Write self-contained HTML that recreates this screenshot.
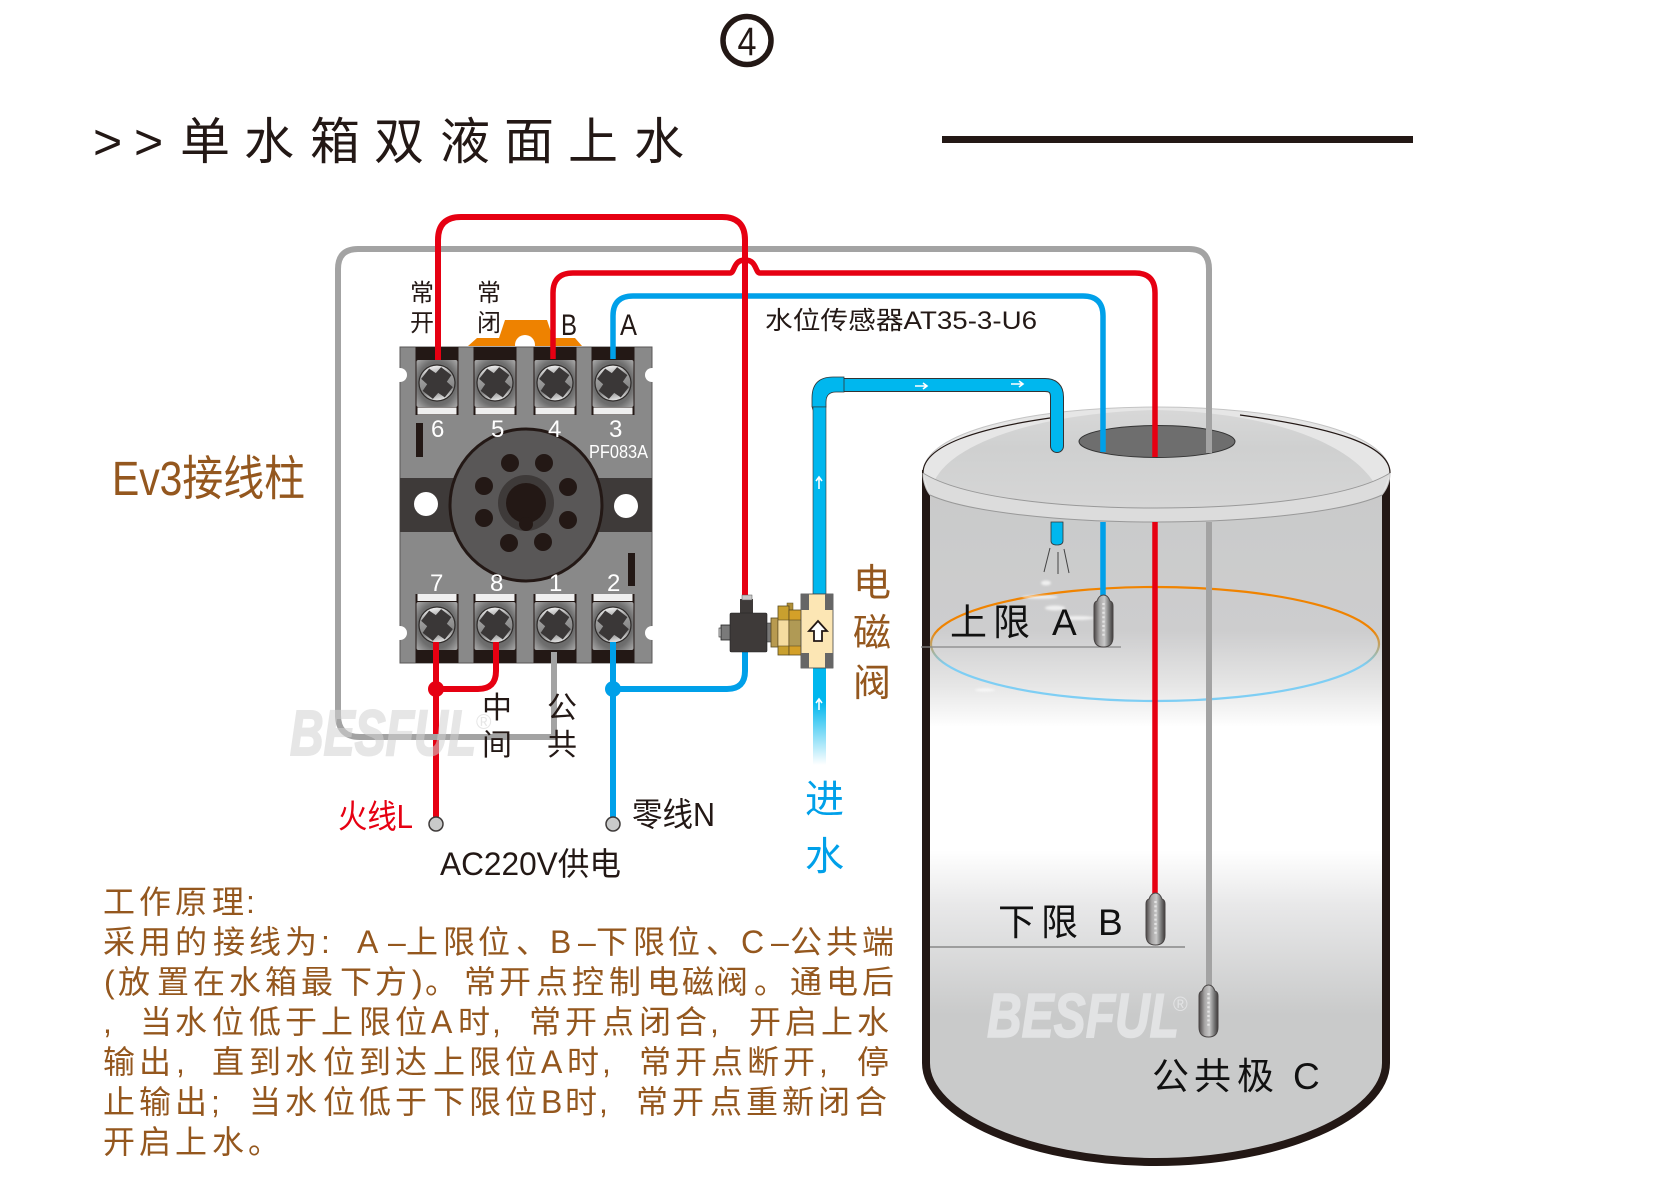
<!DOCTYPE html>
<html><head><meta charset="utf-8"><style>
html,body{margin:0;padding:0;background:#fff;width:1679px;height:1190px;overflow:hidden}
svg{display:block}
text{font-family:"Liberation Sans","Noto Sans CJK SC",sans-serif}
.cn{fill:#94571e;font-size:32px}
.k{fill:#111;font-size:37px}
.w{fill:#fff;font-size:24px}
</style></head><body>
<svg xmlns="http://www.w3.org/2000/svg" width="1679" height="1190" viewBox="0 0 1679 1190">
<defs>
<linearGradient id="tank" gradientUnits="userSpaceOnUse" x1="0" y1="480" x2="0" y2="1166">
<stop offset="0" stop-color="#c9caca"/><stop offset=".22" stop-color="#cdcdce"/><stop offset=".3" stop-color="#e6e6e6"/><stop offset=".345" stop-color="#f8f8f8"/><stop offset=".36" stop-color="#fff"/><stop offset=".54" stop-color="#fff"/><stop offset=".62" stop-color="#e8e8e9"/><stop offset=".78" stop-color="#c9caca"/><stop offset="1" stop-color="#c9caca"/>
</linearGradient>
<linearGradient id="surf" gradientUnits="userSpaceOnUse" x1="0" y1="630" x2="0" y2="665">
<stop offset="0" stop-color="#f08300"/><stop offset="1" stop-color="#7ecef4"/>
</linearGradient>
<linearGradient id="lidg" gradientUnits="userSpaceOnUse" x1="0" y1="408" x2="0" y2="508">
<stop offset="0" stop-color="#d8d8d8"/><stop offset=".4" stop-color="#cfd0d0"/><stop offset="1" stop-color="#d6d6d6"/>
</linearGradient>
<linearGradient id="pipefade" gradientUnits="userSpaceOnUse" x1="0" y1="668" x2="0" y2="765">
<stop offset="0" stop-color="#00b7ee"/><stop offset=".35" stop-color="#00b7ee"/><stop offset="1" stop-color="#00b7ee" stop-opacity="0"/>
</linearGradient>
<linearGradient id="probe" x1="0" x2="1" y1="0" y2="0">
<stop offset="0" stop-color="#4a4646"/><stop offset=".3" stop-color="#a8a6a6"/><stop offset=".55" stop-color="#c8c8c8"/><stop offset=".8" stop-color="#777"/><stop offset="1" stop-color="#3e3a39"/>
</linearGradient>
<radialGradient id="plate" cx=".5" cy=".5" r=".72">
<stop offset="0" stop-color="#555"/><stop offset=".65" stop-color="#6e6e6e"/><stop offset="1" stop-color="#b0b0b0"/>
</radialGradient>
<linearGradient id="screw" x1=".4" y1="0" x2=".6" y2="1">
<stop offset="0" stop-color="#f6f6f6"/><stop offset=".3" stop-color="#a0a0a0"/><stop offset=".7" stop-color="#858585"/><stop offset="1" stop-color="#ececec"/>
</linearGradient>
<filter id="blur"><feGaussianBlur stdDeviation="1"/></filter>
<g id="screwg">
<circle r="18" fill="url(#screw)" stroke="#2f2c2b" stroke-width="1.200"/>
<path d="M-6.500,-15 H6.500 L7,-7 L15,-6.500 V6.500 L7,7 L6.500,15 H-6.500 L-7,7 L-15,6.500 V-6.500 L-7,-7 Z" fill="#3a3737" transform="rotate(38)"/>
</g>
<g id="termT">
<rect x="-21.500" y="-36" width="43" height="68" fill="#231815"/>
<rect x="-20.500" y="-23" width="41" height="47" rx="2" fill="url(#plate)"/>
<rect x="-19.500" y="24.500" width="39" height="7" fill="#efefef"/>
<use href="#screwg"/>
</g>
<g id="termB">
<rect x="-21.500" y="-31" width="43" height="69" fill="#231815"/>
<rect x="-20.500" y="-23" width="41" height="48" rx="2" fill="url(#plate)"/>
<rect x="-19.500" y="-31" width="39" height="7" fill="#efefef"/>
<use href="#screwg"/>
</g>
<g id="probeg">
<path d="M3,6 Q5,0 9.500,0 Q14,0 16,6 Q19,7 19,11 V42 Q19,52 9.500,52 Q0,52 0,42 V11 Q0,7 3,6 Z" fill="url(#probe)" stroke="#4a4646" stroke-width="1"/>
<path d="M9.500,8 V42" stroke="#e4e4e4" stroke-width="2.400" stroke-dasharray="2 2.400" fill="none"/>
</g>
</defs>

<rect width="1679" height="1190" fill="#fff"/>

<!-- header -->
<circle cx="747" cy="40.500" r="24" fill="none" stroke="#231815" stroke-width="5.500"/>
<text x="747" y="55" font-size="40" text-anchor="middle" fill="#231815" textLength="19" lengthAdjust="spacingAndGlyphs">4</text>
<text y="159" font-size="50" fill="#231815" x="93 134 180 244 310 374 440 504 568 634">&gt;&gt;单水箱双液面上水</text>
<rect x="942" y="136" width="471" height="7" fill="#231815"/>

<!-- tank -->
<path d="M926,470 V1063 C926,1115 1030,1162 1156,1162 C1282,1162 1386,1115 1386,1063 V470 Z" fill="url(#tank)" stroke="none"/>
<path d="M926,470 V1063 C926,1115 1030,1162 1156,1162 C1282,1162 1386,1115 1386,1063 V470" fill="none" stroke="#231815" stroke-width="8"/>
<text x="987" y="1037" font-size="62" font-weight="bold" font-style="italic" fill="#e2e3e4" stroke="#e2e3e4" stroke-width="1.500" textLength="192" lengthAdjust="spacingAndGlyphs">BESFUL</text>
<text x="1173" y="1011" font-size="20" fill="#e2e3e4">®</text>

<!-- water surface -->
<ellipse cx="1155" cy="644" rx="224" ry="57" fill="none" stroke="url(#surf)" stroke-width="2.200"/>
<g fill="#fff" filter="url(#blur)" opacity=".7">
<ellipse cx="1040" cy="597" rx="18" ry="1.800"/><ellipse cx="1055" cy="608" rx="10" ry="2.500"/><ellipse cx="1078" cy="618" rx="16" ry="2"/><ellipse cx="1046" cy="583" rx="5" ry="2.500"/><ellipse cx="985" cy="690" rx="10" ry="1.500"/>
</g>
<line x1="921" y1="647" x2="1121" y2="647" stroke="#888" stroke-width="1.200"/>
<line x1="930" y1="947" x2="1185" y2="947" stroke="#777" stroke-width="1.200"/>

<!-- lid -->
<path d="M923,473 C923,432 1030,407 1156,407 C1282,407 1390,432 1390,473 C1390,482 1386,490 1382,495 C1345,512 1250,522 1156,522 C1062,522 967,512 930,495 C926,490 923,482 923,473 Z" fill="#e6e6e6" stroke="#c4c4c4" stroke-width="1"/>
<path d="M933,484 C950,440 1050,412 1156,410 C1262,412 1350,440 1376,486 C1320,502 1240,508 1156,508 C1072,508 985,502 933,484 Z" fill="url(#lidg)"/>
<path d="M930,495 C967,512 1062,522 1156,522 C1250,522 1345,512 1382,495 L1390,473 C1350,498 1250,508 1156,508 C1062,508 963,498 923,473 Z" fill="#dcdcdc"/>
<path d="M923,473 C963,498 1062,508 1156,508 C1250,508 1350,498 1390,473" fill="none" stroke="#999" stroke-width="1"/>
<path d="M930,495 C967,512 1062,522 1156,522 C1250,522 1345,512 1382,495" fill="none" stroke="#999" stroke-width="1"/>
<path d="M923,473 C923,445 980,428 1050,418" fill="none" stroke="#231815" stroke-width="1.200"/>
<path d="M1240,415 C1335,428 1390,445 1390,473" fill="none" stroke="#231815" stroke-width="1.200"/>
<ellipse cx="1157" cy="441.500" rx="78" ry="16" fill="#6e6e6e" stroke="#333" stroke-width="1"/>

<!-- gray wire upper -->
<path d="M338,717 V269 Q338,249 358,249 H1189 Q1209,249 1209,269 V453" fill="none" stroke="#a3a3a3" stroke-width="6"/>
<path d="M1209,522 V986" fill="none" stroke="#a3a3a3" stroke-width="6"/>

<!-- orange bracket -->
<path d="M468,346 L477,338 H499 L505,320 H547 L553,338 H575 L582,346 Z" fill="#ee8200"/>
<circle cx="525" cy="345" r="10" fill="#fff"/>

<!-- relay base -->
<rect x="400" y="347" width="252" height="316" fill="#898989" stroke="#595757" stroke-width="1"/>
<rect x="400" y="478" width="252" height="54" fill="#3e3a39"/>
<g fill="#fff"><circle cx="400" cy="375" r="7"/><circle cx="652" cy="375" r="7"/><circle cx="400" cy="633" r="7"/><circle cx="652" cy="633" r="7"/>
<circle cx="426" cy="504" r="12"/><circle cx="626" cy="506" r="12"/></g>
<circle cx="526" cy="505" r="76" fill="#595757" stroke="#231815" stroke-width="3"/>
<circle cx="526" cy="503" r="28" fill="#3e3a39"/>
<circle cx="526" cy="503" r="20" fill="#231815"/>
<circle cx="526" cy="524" r="7" fill="#231815"/>
<g fill="#231815"><circle cx="510" cy="463" r="9"/><circle cx="544" cy="463" r="9"/><circle cx="484" cy="486" r="9"/><circle cx="568" cy="487" r="9"/><circle cx="484" cy="518" r="9"/><circle cx="568" cy="520" r="9"/><circle cx="509" cy="543" r="9"/><circle cx="543" cy="542" r="9"/>
<rect x="416" y="423" width="7" height="34"/><rect x="628" y="553" width="7" height="33"/></g>
<use href="#termT" x="437" y="383"/><use href="#termT" x="495" y="383"/><use href="#termT" x="555" y="383"/><use href="#termT" x="613" y="383"/>
<use href="#termB" x="437" y="625"/><use href="#termB" x="495" y="625"/><use href="#termB" x="555" y="625"/><use href="#termB" x="613" y="625"/>
<text class="w" x="431" y="437">6</text><text class="w" x="491" y="437">5</text><text class="w" x="548" y="437">4</text><text class="w" x="609" y="437">3</text>
<text class="w" x="430" y="591">7</text><text class="w" x="490" y="591">8</text><text class="w" x="549" y="591">1</text><text class="w" x="607" y="591">2</text>
<text x="589" y="458" font-size="18" fill="#fff" textLength="59" lengthAdjust="spacingAndGlyphs">PF083A</text>

<!-- blue wires -->
<path d="M613,359 V316 Q613,296 633,296 H1083 Q1103,296 1103,316 V452" fill="none" stroke="#00a0e9" stroke-width="5.500"/>
<path d="M1103,522 V596" fill="none" stroke="#00a0e9" stroke-width="5.500"/>
<path d="M613,642 V823 M613,689 H727 Q745,689 745,671 V650" fill="none" stroke="#00a0e9" stroke-width="6"/>
<circle cx="613" cy="689" r="8" fill="#00a0e9"/>

<!-- red wires -->
<path d="M438,360 V240 Q438,217 461,217 H722 Q745,217 745,240 V596" fill="none" stroke="#e60012" stroke-width="6"/>
<path d="M553,359 V293 Q553,273 573,273 H730 C735,273 733,260 745,260 C757,260 755,273 760,273 H1135 Q1155,273 1155,293 V457" fill="none" stroke="#e60012" stroke-width="5.500"/>
<path d="M1155,522 V894" fill="none" stroke="#e60012" stroke-width="5.500"/>
<path d="M436,642 V823 M496,642 V671 Q496,689 478,689 H436" fill="none" stroke="#e60012" stroke-width="6"/>
<circle cx="436" cy="689" r="8" fill="#e60012"/>
<circle cx="436" cy="824" r="7" fill="#c9caca" stroke="#3e3a39" stroke-width="1.500"/>
<circle cx="613" cy="824" r="7" fill="#c9caca" stroke="#3e3a39" stroke-width="1.500"/>

<!-- gray wire lower (over the red) -->
<path d="M338,715 Q338,737 360,737 H554 V652" fill="none" stroke="#a3a3a3" stroke-width="6"/>

<!-- left watermark, translucent over wires -->
<g opacity=".55" fill="#d2d2d2">
<text x="290" y="755" font-size="64" font-weight="bold" font-style="italic" stroke="#d2d2d2" stroke-width="2" textLength="186" lengthAdjust="spacingAndGlyphs">BESFUL</text>
<text x="476" y="729" font-size="21">®</text>
</g>

<!-- inlet pipe -->
<path d="M819,407 V398 Q819,385 832,385 H1045 Q1057,385 1057,397 V446" fill="none" stroke="#333" stroke-width="14" stroke-linecap="round"/>
<path d="M819,407 V398 Q819,385 832,385 H1045 Q1057,385 1057,397 V446" fill="none" stroke="#00b7ee" stroke-width="12" stroke-linecap="round"/>
<path d="M812,407 V398 Q812,377 833,377 H844 V392 H836 Q826,392 826,402 V407 Z" fill="#00b7ee" stroke="#333" stroke-width=".8"/>
<rect x="813" y="407" width="13" height="187" fill="#00b7ee" stroke="#333" stroke-width=".6"/>
<rect x="813" y="668" width="13" height="97" fill="url(#pipefade)"/>
<path d="M1051,522 V541 Q1051,545 1057,545 Q1063,545 1063,541 V522 Z" fill="#00b7ee" stroke="#333" stroke-width=".8"/>
<path d="M1050,548 L1044,572 M1058,552 V574 M1064,549 L1069,573" stroke="#444" stroke-width="1" fill="none"/>
<g stroke="#fff" stroke-width="1.600" fill="none">
<path d="M915,386 H926 M923,383 L927,386 L923,389"/>
<path d="M1011,384 H1022 M1019,381 L1023,384 L1019,387"/>
<path d="M819,489 V478 M816,481 L819,477 L822,481"/>
<path d="M819,710 V700 M816,703 L819,699 L822,703"/>
</g>

<!-- valve -->
<rect x="719" y="628" width="3" height="9" fill="#e0e0e0" stroke="#222" stroke-width=".6"/>
<rect x="721" y="625" width="10" height="15" fill="#7a7a7a" stroke="#222" stroke-width=".8"/>
<rect x="740" y="599" width="13" height="15" fill="#3e3a39"/>
<rect x="742" y="595" width="10" height="5" fill="#c8c8c8" stroke="#555" stroke-width=".5"/>
<rect x="730" y="613" width="37" height="39" rx="1.500" fill="#3e3a39" stroke="#222" stroke-width=".6"/>
<rect x="767" y="623" width="5" height="19" fill="#777" stroke="#222" stroke-width=".5"/>
<rect x="771" y="618" width="8" height="29" fill="#b89a50" stroke="#5a4a20" stroke-width=".8"/>
<rect x="787" y="603" width="6" height="7" fill="#b08f38" stroke="#5a4a20" stroke-width=".5"/>
<rect x="778" y="606" width="11" height="49" fill="#c9a02f" stroke="#5a4a20" stroke-width=".8"/>
<rect x="778" y="620" width="11" height="26" fill="#f5dca0" stroke="#5a4a20" stroke-width=".6"/>
<rect x="789" y="610" width="14" height="45" fill="#d4a028" stroke="#5a4a20" stroke-width=".8"/>
<rect x="789" y="620" width="14" height="26" fill="#b09a55" stroke="#5a4a20" stroke-width=".6"/>
<rect x="801" y="594" width="32" height="74" fill="#fce6b4" stroke="#444" stroke-width=".8"/>
<rect x="801" y="594" width="8" height="16" fill="#666"/><rect x="825" y="594" width="8" height="16" fill="#666"/>
<rect x="801" y="653" width="8" height="15" fill="#666"/><rect x="825" y="653" width="8" height="15" fill="#666"/>
<path d="M818,621 L827,631 H822 V641 H814 V631 H809 Z" fill="#fff" stroke="#231815" stroke-width="1.800"/>

<!-- probes -->
<use href="#probeg" x="1094" y="595"/>
<use href="#probeg" x="1146" y="893"/>
<use href="#probeg" x="1199" y="985"/>

<!-- labels -->
<g fill="#231815" font-size="24">
<text x="410" y="301">常</text><text x="410" y="331">开</text>
<text x="477" y="301">常</text><text x="477" y="331">闭</text>
</g>
<text x="561" y="335" font-size="30" fill="#231815" textLength="16" lengthAdjust="spacingAndGlyphs">B</text>
<text x="620" y="335" font-size="30" fill="#231815" textLength="17" lengthAdjust="spacingAndGlyphs">A</text>
<text x="765" y="329" font-size="25" fill="#231815" textLength="272" lengthAdjust="spacingAndGlyphs">水位传感器AT35-3-U6</text>
<text x="112" y="495" font-size="48" fill="#94571e" textLength="193" lengthAdjust="spacingAndGlyphs">Ev3接线柱</text>
<g font-size="38" fill="#94571e"><text x="853" y="596">电</text><text x="853" y="646">磁</text><text x="853" y="696">阀</text></g>
<g font-size="39" fill="#00a0e9"><text x="805" y="813">进</text><text x="805" y="870">水</text></g>
<g font-size="30" fill="#231815"><text x="482" y="718">中</text><text x="482" y="755">间</text><text x="547" y="718">公</text><text x="547" y="755">共</text></g>
<text x="338" y="828" font-size="33" fill="#e60012" textLength="75" lengthAdjust="spacingAndGlyphs">火线L</text>
<text x="632" y="826" font-size="33" fill="#231815" textLength="83" lengthAdjust="spacingAndGlyphs">零线N</text>
<text x="440" y="875" font-size="32" fill="#231815" textLength="181" lengthAdjust="spacingAndGlyphs">AC220V供电</text>
<text class="k" x="950 993 1052" y="635">上限A</text>
<text class="k" x="998 1041 1098" y="935">下限B</text>
<text class="k" x="1152 1194 1237 1293" y="1089">公共极C</text>

<!-- description -->
<text class="cn" y="913" x="103 139 175 212 246">工作原理:</text>
<text class="cn" y="953" x="103 139 175 213 249 285 321 357 388 406 443 478 516 550 578 596 633 668 706 741 771 790 826 862">采用的接线为:A–上限位、B–下限位、C–公共端</text>
<text class="cn" y="993" x="104 118 157 193 229 265 301 340 375 412 425 464 499 536 572 609 647 682 716 754 790 826 862">(放置在水箱最下方)。常开点控制电磁阀。通电后</text>
<text class="cn" y="1033" x="103 140 175 212 249 285 321 359 395 431 458 492 529 565 602 639 675 710 749 785 821 857">,当水位低于上限位A时,常开点闭合,开启上水</text>
<text class="cn" y="1073" x="103 139 176 212 249 285 323 359 395 433 469 505 541 567 602 639 675 711 747 783 819 857">输出,直到水位到达上限位A时,常开点断开,停</text>
<text class="cn" y="1113" x="103 139 175 211 249 285 323 359 395 433 469 505 541 565 599 636 672 710 746 782 818 855">止输出;当水位低于下限位B时,常开点重新闭合</text>
<text class="cn" y="1153" x="103 139 175 212 248">开启上水。</text>
</svg>
</body></html>
